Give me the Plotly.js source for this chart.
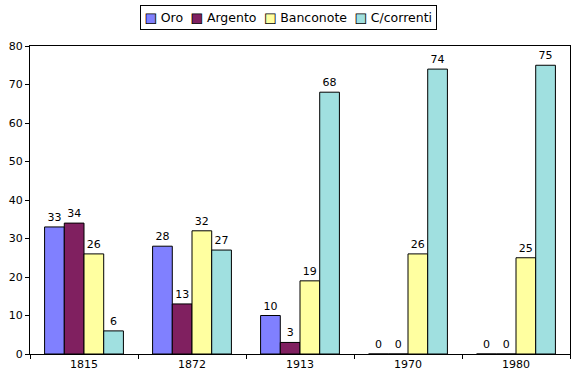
<!DOCTYPE html>
<html><head><meta charset="utf-8">
<script src="https://cdn.plot.ly/plotly-3.0.1.min.js"></script>
<style>body{margin:0;background:#fff}#c{width:580px;height:379px}</style>
</head><body><div id="c"></div>
<script>
const years = ['1815','1872','1913','1970','1980'];
const oro = [33,28,10,0,0];
const argento = [34,13,3,0,0];
const banconote = [26,32,19,26,25];
const correnti = [6,27,68,74,75];
const names = ['Oro','Argento','Banconote','C/correnti'];
const colors = ['#8080FF','#802060','#FFFFA0','#A0E0E0'];
const series = [oro, argento, banconote, correnti];
const fam = 'DejaVu Sans, Verdana, sans-serif';
const font = {family:fam, size:11, color:'#000'};
const data = series.map((v,i)=>({
  type:'bar', x:years, y:v, name:names[i],
  marker:{color:colors[i], line:{color:'#000', width:1}},
  text:v.map(String), textposition:'outside', cliponaxis:false,
  textfont:font, hoverinfo:'none', showlegend:false
}));
// Compact legend built as one text line with outlined coloured squares
const sep = '&nbsp;&nbsp;';
const legText = names.map((n,i)=>'<span style="fill:'+colors[i]+';stroke:#000;stroke-width:0.8px">■</span>&nbsp;'+n).join(sep);
const layout = {
  width:580, height:379,
  margin:{l:30, r:10, t:46, b:25},
  paper_bgcolor:'#fff', plot_bgcolor:'#fff',
  font:font,
  barmode:'group', bargap:0.27, bargroupgap:0,
  showlegend:false,
  annotations:[{text:legText, xref:'paper', yref:'paper', x:0.478, y:1.0925,
    xanchor:'center', yanchor:'middle', showarrow:false,
    font:{family:fam, size:12.5, color:'#000'},
    bordercolor:'#000', borderwidth:1, borderpad:4, bgcolor:'#fff'}],
  xaxis:{type:'category', showline:true, linecolor:'#000', linewidth:1, mirror:true,
    ticks:'outside', tickson:'boundaries', ticklen:4, tickcolor:'#000', showgrid:false,
    tickfont:{family:fam, size:11, color:'#000'}},
  yaxis:{range:[0,80], dtick:10, showline:true, linecolor:'#000', linewidth:1, mirror:true,
    ticks:'outside', ticklen:4, tickcolor:'#000', showgrid:false, zeroline:false,
    tickfont:{family:fam, size:11, color:'#000'}}
};
Plotly.newPlot('c', data, layout, {displayModeBar:false, staticPlot:true});
</script></body></html>
